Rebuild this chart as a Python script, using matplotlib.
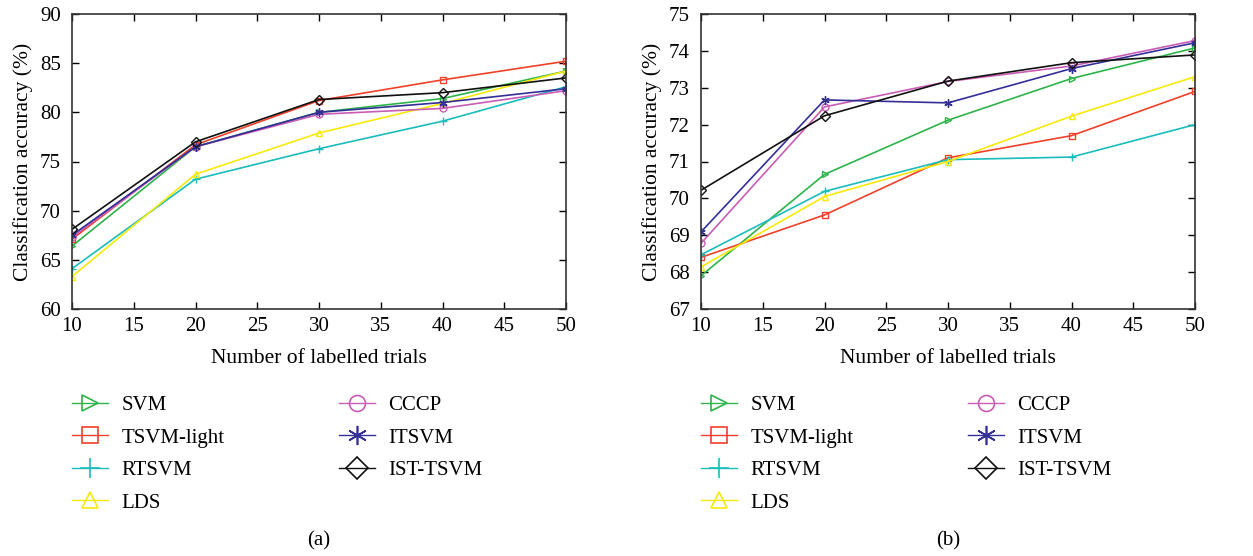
"""Classification accuracy vs number of labelled trials, two panels."""
import matplotlib
matplotlib.use('Agg')
import matplotlib.pyplot as plt

plt.rcParams['font.family'] = ['Liberation Serif', 'DejaVu Serif']

trials = [10, 20, 30, 40, 50]
methods = ['SVM', 'TSVM-light', 'RTSVM', 'LDS', 'CCCP', 'ITSVM', 'IST-TSVM']

# panel (a)
acc_a = {
    'SVM':        [66.4, 76.5, 80.0, 81.4, 84.2],
    'TSVM-light': [67.1, 76.7, 81.2, 83.3, 85.2],
    'RTSVM':      [64.1, 73.2, 76.3, 79.1, 82.6],
    'LDS':        [63.3, 73.7, 77.9, 80.9, 84.2],
    'CCCP':       [67.3, 76.5, 79.8, 80.4, 82.2],
    'ITSVM':      [67.5, 76.5, 80.0, 81.0, 82.4],
    'IST-TSVM':   [68.1, 77.0, 81.3, 82.0, 83.5],
}

# panel (b)
acc_b = {
    'SVM':        [67.9, 70.65, 72.12, 73.25, 74.08],
    'TSVM-light': [68.4, 69.55, 71.10, 71.70, 72.90],
    'RTSVM':      [68.47, 70.19, 71.05, 71.12, 72.00],
    'LDS':        [68.14, 70.05, 71.00, 72.23, 73.30],
    'CCCP':       [68.78, 72.48, 73.17, 73.59, 74.28],
    'ITSVM':      [69.09, 72.67, 72.59, 73.52, 74.22],
    'IST-TSVM':   [70.22, 72.24, 73.18, 73.68, 73.89],
}

colors = {
    'SVM': '#2db34a', 'TSVM-light': '#f0412a', 'RTSVM': '#1bbcbc',
    'LDS': '#f7ea0a', 'CCCP': '#c95cb5', 'ITSVM': '#332f96', 'IST-TSVM': '#111111',
}
markers = {
    'SVM': '>', 'TSVM-light': 's', 'RTSVM': '+', 'LDS': '^',
    'CCCP': 'o', 'ITSVM': (6, 2, 0), 'IST-TSVM': 'D',
}

W, H = 1253, 556
FS = 15
fig = plt.figure(figsize=(W / 100, H / 100), dpi=100)


def panel(left_px, data, ylim, yticks, caption):
    ax = fig.add_axes([left_px / W, 247 / H, 494 / W, 295 / H])
    for m in methods:
        mk = markers[m]
        ms = 6 if mk in ('+', (6, 2, 0)) else 5
        ax.plot(trials, data[m], color=colors[m], marker=mk, markersize=ms,
                markerfacecolor='none', markeredgecolor=colors[m],
                markeredgewidth=1.0, linewidth=1.2, label=m)
    ax.set_xlim(10, 50)
    ax.set_ylim(*ylim)
    ax.set_xticks(range(10, 51, 5))
    ax.set_yticks(yticks)
    ax.tick_params(direction='in', top=True, right=True, length=5,
                   labelsize=FS, width=1.0, pad=6)
    ax.tick_params(axis='y', pad=8)
    for s in ax.spines.values():
        s.set_linewidth(1.2)
        s.set_color('#333333')
    ax.set_xlabel('Number of labelled trials', fontsize=FS + 0.5, labelpad=9)
    ax.set_ylabel('Classification accuracy (%)', fontsize=FS + 0.5, labelpad=5)
    leg = ax.legend(loc='upper left', bbox_to_anchor=(-0.016, -0.265), ncol=2,
                    frameon=False, fontsize=FS, markerscale=2.3,
                    handlelength=1.7, handletextpad=0.65, labelspacing=0.62,
                    columnspacing=5.5, borderaxespad=0)
    for h in leg.legend_handles:
        h.set_linewidth(1.0)
        h.set_markeredgewidth(1.2)
    fig.text((left_px + 247) / W, 15 / H, caption, ha='center', va='center',
             fontsize=FS)
    return ax


panel(72, acc_a, (60, 90), range(60, 91, 5), '(a)')
panel(701, acc_b, (67, 75), range(67, 76), '(b)')

fig.savefig('out.png', dpi=100)
